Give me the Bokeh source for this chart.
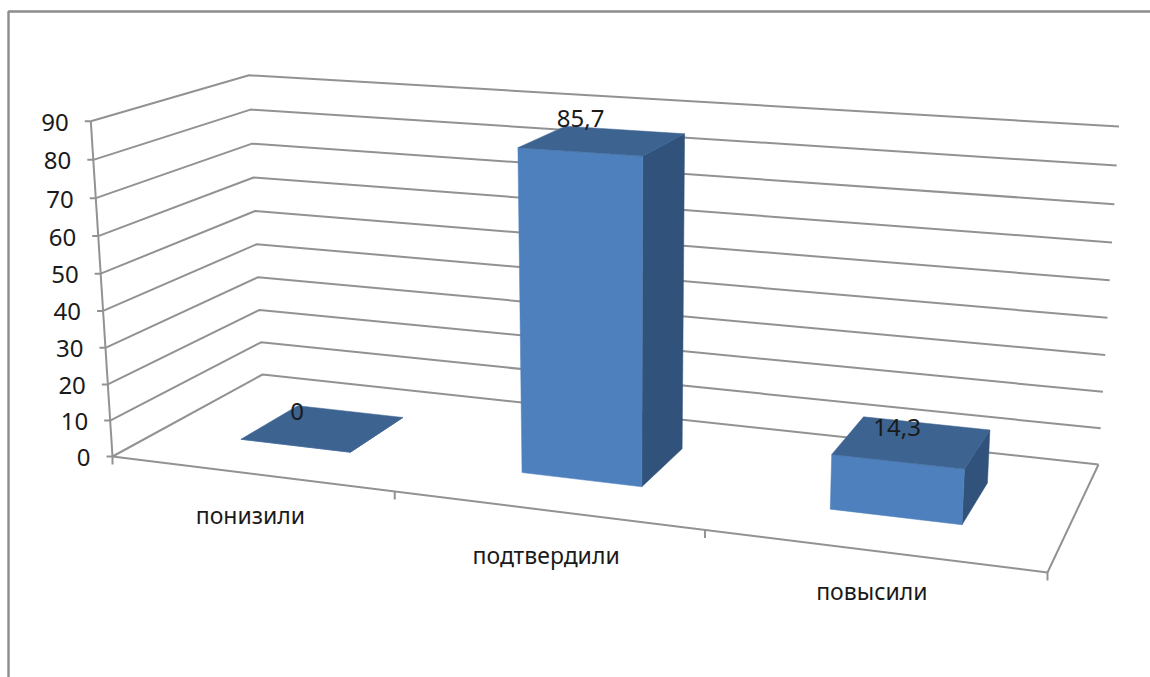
import numpy as np
from bokeh.plotting import figure
from bokeh.models import Range1d
from bokeh.core.properties import value
from bokeh.embed import file_html
from bokeh.resources import INLINE

categories = ["понизили", "подтвердили", "повысили"]
values = [0, 85.7, 14.3]
value_labels = ["0", "85,7", "14,3"]
ticks = [0, 10, 20, 30, 40, 50, 60, 70, 80, 90]

VMAX = 90.0
NCAT = len(categories)
HALF_W, D0, D1 = 0.2, 0.3, 0.7
GRID = "#929292"
TXT = "#1a1a1a"
FONT = "Noto Sans"
FS = "24px"
CAT_FS = "23px"


def homography(dst):
    src = [(0, 0), (NCAT, 0), (NCAT, 1), (0, 1)]
    A, b = [], []
    for (s, t), (X, Y) in zip(src, dst):
        A.append([s, t, 1, 0, 0, 0, -s * X, -t * X]); b.append(X)
        A.append([0, 0, 0, s, t, 1, -s * Y, -t * Y]); b.append(Y)
    h = np.linalg.solve(np.array(A, float), np.array(b, float))
    return np.append(h, 1).reshape(3, 3)


H_FLOOR = homography([(112, 456), (1047, 572), (1098, 464), (262, 374)])

# camera calibration of the height direction
CALIB = [((0, 0, 90), (90, 121)), ((0, 1, 90), (249, 76)), ((3, 1, 90), (1119, 126)),
         ((1.3, .3, 85.7), (517, 147)), ((1.7, .3, 85.7), (642, 154)),
         ((2.3, .3, 14.3), (831, 454)), ((2.7, .3, 14.3), (963, 468))]
A, b = [], []
for (u, d, v), (X, Y) in CALIB:
    f = H_FLOOR @ np.array([u, d, 1.0])
    A.append([v, 0, -X * v]); b.append(X * f[2] - f[0])
    A.append([0, v, -Y * v]); b.append(Y * f[2] - f[1])
M_V = np.linalg.lstsq(np.array(A, float), np.array(b, float), rcond=None)[0]


def proj(u, d, v):
    f = H_FLOOR @ np.array([u, d, 1.0]) + M_V * v
    return f[0] / f[2], f[1] / f[2]


p = figure(width=1150, height=677, x_range=Range1d(0, 1150), y_range=Range1d(677, 0),
           output_backend="svg", toolbar_location=None, min_border=0)
p.xaxis.visible = False
p.yaxis.visible = False
p.xgrid.visible = False
p.ygrid.visible = False
p.outline_line_color = None
p.background_fill_color = "white"

# outer chart frame
p.line([8, 8, 1150], [677, 11, 11], line_color="#8c8c8c", line_width=2.4)


def pl(pts):
    p.line([a[0] for a in pts], [a[1] for a in pts], line_color=GRID, line_width=2)


# gridlines and value axis
for v in ticks:
    pl([proj(0, 0, v), proj(0, 1, v), proj(NCAT, 1, v)])
    x, y = proj(0, 0, v)
    pl([(x - 6, y), (x, y)])
p.text([proj(0, 0, v)[0] - 22 for v in ticks], [proj(0, 0, v)[1] + 1 for v in ticks],
       text=[str(v) for v in ticks], text_align="right", text_baseline="middle",
       text_font=value(FONT), text_font_size=FS, text_color=TXT)
pl([proj(0, 0, 0), proj(0, 0, VMAX)])

# floor
pl([proj(0, 0, 0), proj(NCAT, 0, 0), proj(NCAT, 1, 0)])
for i in range(NCAT + 1):
    x, y = proj(i, 0, 0)
    pl([(x, y), (x, y + 8)])

# bars
for i, v in enumerate(values):
    a, b_ = i + 0.5 - HALF_W, i + 0.5 + HALF_W
    faces = [
        ([(b_, D0, 0), (b_, D1, 0), (b_, D1, v), (b_, D0, v)], "#31527a"),
        ([(a, D0, 0), (b_, D0, 0), (b_, D0, v), (a, D0, v)], "#4e80bd"),
        ([(a, D0, v), (b_, D0, v), (b_, D1, v), (a, D1, v)], "#3d6391"),
    ]
    for corners, col in faces:
        pts = [proj(*c) for c in corners]
        p.patch([q[0] for q in pts], [q[1] for q in pts], fill_color=col, line_color=col, line_width=0.5)

# data labels, placed from the middle of each bar's top face
lab = [proj(i + 0.5, 0.5, v) for i, v in enumerate(values)]
lab_dx = [-26, -22, -15]
lab_dy = [-17, -22, -15]
p.text([q[0] + dx for q, dx in zip(lab, lab_dx)], [q[1] + dy for q, dy in zip(lab, lab_dy)],
       text=value_labels, text_align="center", text_baseline="middle", text_font=value(FONT),
       text_font_size=FS, text_color=TXT)

# category labels
cat = [proj(i + 0.5, 0, 0) for i in range(NCAT)]
cat_dy = [41, 45, 40]
p.text([q[0] for q in cat], [q[1] + dy for q, dy in zip(cat, cat_dy)], text=categories,
       text_align="center", text_baseline="middle", text_font=value(FONT),
       text_font_size=CAT_FS, text_color=TXT)

open("out.html", "w").write(file_html(p, INLINE))
